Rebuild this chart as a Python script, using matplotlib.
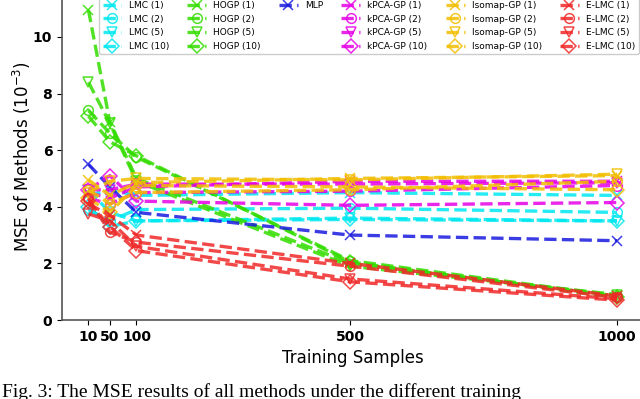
import matplotlib
matplotlib.use("Agg")
import matplotlib.pyplot as plt
from matplotlib.lines import Line2D

samples = [10, 50, 100, 500, 1000]
variants = ["1", "2", "5", "10"]
markers = ["x", "o", "v", "D"]

lmc = {
    "1": [4.4, 4.6, 4.4, 4.5, 4.4],
    "2": [3.9, 3.5, 3.9, 3.95, 3.8],
    "5": [4.6, 3.8, 3.5, 3.6, 3.5],
    "10": [4.0, 3.3, 3.5, 3.55, 3.5],
}
hogp = {
    "1": [10.95, 7.0, 5.0, 2.0, 0.85],
    "2": [7.4, 6.6, 5.75, 2.1, 0.85],
    "5": [8.4, 6.95, 4.9, 1.9, 0.9],
    "10": [7.2, 6.3, 5.8, 2.05, 0.8],
}
mlp = [5.5, 4.7, 3.8, 3.0, 2.8]
kpca = {
    "1": [4.5, 4.3, 4.7, 4.9, 4.9],
    "2": [4.3, 4.1, 4.5, 4.55, 4.75],
    "5": [4.6, 4.6, 4.8, 4.8, 4.85],
    "10": [4.6, 5.1, 4.2, 4.05, 4.15],
}
isomap = {
    "1": [4.95, 4.4, 4.85, 5.0, 5.1],
    "2": [4.6, 4.1, 4.5, 4.6, 4.9],
    "5": [4.5, 4.9, 5.0, 4.95, 5.15],
    "10": [4.3, 3.8, 4.75, 4.7, 4.6],
}
elmc = {
    "1": [4.1, 3.7, 3.0, 2.0, 0.85],
    "2": [4.3, 3.1, 2.75, 1.9, 0.8],
    "5": [3.75, 3.5, 2.6, 1.45, 0.75],
    "10": [4.2, 3.3, 2.45, 1.35, 0.7],
}

xticks = [10, 50, 100, 500, 1000]
yticks = [0, 2, 4, 6, 8, 10]

colors = {
    "LMC": "#00e8f0",
    "HOGP": "#33dd00",
    "MLP": "#1a1ae0",
    "kPCA-GP": "#e600e6",
    "Isomap-GP": "#f2be00",
    "E-LMC": "#f02828",
}

fig = plt.figure(figsize=(6.4, 3.99), dpi=100)
ax = fig.add_axes([62 / 640, 79 / 399, 581.5 / 640, 327 / 399])

lw = 2.4
ms = 7
alpha = 0.85


def draw_group(name, data):
    hs = []
    for v, m in zip(variants, markers):
        h, = ax.plot(samples, data[v], linestyle="--", linewidth=lw, marker=m,
                     markersize=ms, markerfacecolor="none", markeredgewidth=1.1,
                     color=colors[name], alpha=alpha, label=f"{name} ({v})")
        hs.append(h)
    return hs


h_lmc = draw_group("LMC", lmc)
h_hogp = draw_group("HOGP", hogp)
h_mlp, = ax.plot(samples, mlp, linestyle="--", linewidth=lw, marker="x",
                 markersize=ms, markerfacecolor="none", markeredgewidth=1.1,
                 color=colors["MLP"], alpha=alpha, label="MLP")
h_kpca = draw_group("kPCA-GP", kpca)
h_iso = draw_group("Isomap-GP", isomap)
h_elmc = draw_group("E-LMC", elmc)

blank = Line2D([], [], linestyle="none", marker=None)
leg_handles = h_lmc + h_hogp + [h_mlp, blank, blank, blank] + h_kpca + h_iso + h_elmc
leg_labels = [h.get_label() for h in h_lmc + h_hogp] + ["MLP", "", "", ""] + \
    [h.get_label() for h in h_kpca + h_iso + h_elmc]
ax.legend(leg_handles, leg_labels, loc="upper right", ncol=6, fontsize=6.5,
          framealpha=1.0, columnspacing=2.0, handlelength=2.1, borderaxespad=0.5)

ax.set_xlim(-39.5, 1049.5)
ax.set_ylim(0, 11.55)
ax.set_xticks(xticks)
ax.set_xticklabels([str(t) for t in xticks], fontweight="bold", fontsize=10)
ax.set_yticks(yticks)
ax.set_yticklabels([str(t) for t in yticks], fontweight="bold", fontsize=10)
ax.set_xlabel("Training Samples", fontsize=12)
ax.set_ylabel("MSE of Methods ($10^{-3}$)", fontsize=12, labelpad=0)
for s in ["left", "bottom"]:
    ax.spines[s].set_color("#555555")
    ax.spines[s].set_linewidth(1.2)

fig.text(0.003, 0.006, "Fig. 3: The MSE results of all methods under the different training",
         fontsize=14, family="Liberation Serif", ha="left", va="baseline")

fig.savefig("out.png", dpi=100)
